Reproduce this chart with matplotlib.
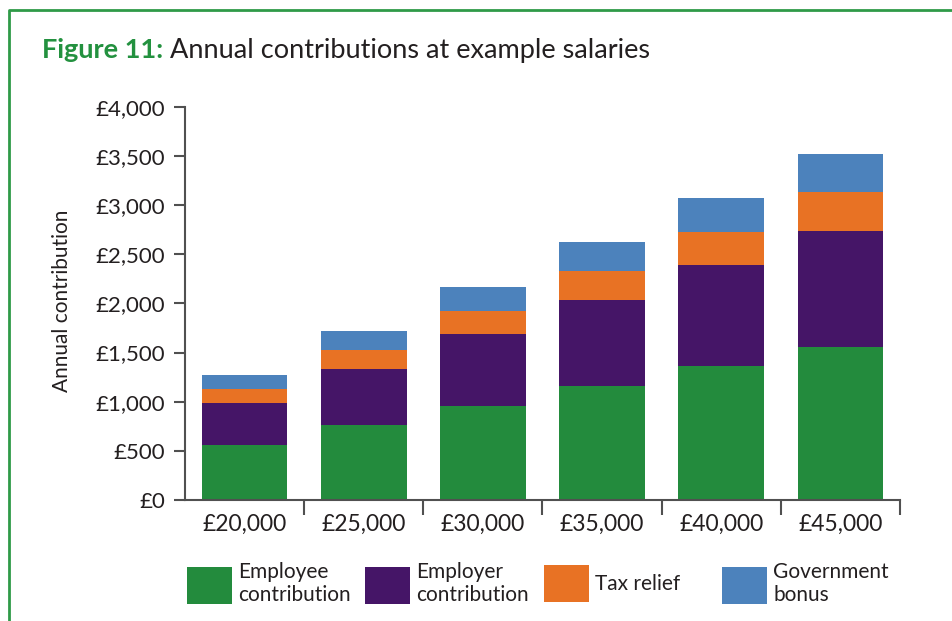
import matplotlib.pyplot as plt
import numpy as np
from matplotlib.lines import Line2D
from matplotlib.ticker import FuncFormatter, FixedLocator

salaries = ['£20,000', '£25,000', '£30,000', '£35,000', '£40,000', '£45,000']
employee = [560, 765, 955, 1160, 1360, 1555]
employer = [425, 565, 735, 875, 1030, 1185]
tax_relief = [145, 195, 235, 295, 340, 390]
gov_bonus = [140, 190, 245, 295, 340, 385]

labels = ['Employee\ncontribution', 'Employer\ncontribution', 'Tax relief', 'Government\nbonus']
colors = ['#238b3d', '#451567', '#e87224', '#4c82bc']

plt.rcParams['font.family'] = ['Lato', 'DejaVu Sans']
text_color = '#231f20'
axis_color = '#505050'

fig = plt.figure(figsize=(9.52, 6.21), dpi=100)
ax = fig.add_axes([0.1943, 0.1948, 0.7511, 0.6334])

x = np.arange(len(salaries))
series = [employee, employer, tax_relief, gov_bonus]
bottom = np.zeros(len(salaries))
bars = []
for values, color in zip(series, colors):
    b = ax.bar(x, values, width=0.72, bottom=bottom, color=color, linewidth=0)
    bars.append(b)
    bottom += np.array(values)

ax.set_xlim(-0.5, len(salaries) - 0.5)
ax.set_ylim(0, 4000)
ax.set_yticks(np.arange(0, 4001, 500))
ax.yaxis.set_major_formatter(FuncFormatter(lambda v, p: f'£{int(v):,}'))

ax.set_xticks(x)
ax.set_xticklabels(salaries)
ax.xaxis.set_minor_locator(FixedLocator(np.arange(0.5, len(salaries), 1.0)))

for side in ['top', 'right']:
    ax.spines[side].set_visible(False)
for side in ['left', 'bottom']:
    ax.spines[side].set_color(axis_color)
    ax.spines[side].set_linewidth(1.5)

ax.tick_params(axis='y', length=8, width=1.5, color=axis_color, pad=6,
               labelsize=16, labelcolor=text_color)
ax.tick_params(axis='x', which='major', length=0, pad=10,
               labelsize=16.5, labelcolor=text_color)
ax.tick_params(axis='x', which='minor', length=11, width=1.5, color=axis_color)

ax.set_ylabel('Annual contribution', fontsize=15, color=text_color, va='center')
ax.yaxis.set_label_coords(-0.172, 0.506)

# titulo em duas partes
t1 = fig.text(0.0441, 1 - 58 / 621, 'Figure 11:', fontsize=19.5, fontweight='bold',
              color='#23913f', va='baseline')
fig.canvas.draw()
bb = t1.get_window_extent()
fig.text(bb.x1 / fig.bbox.width, 1 - 58 / 621, ' Annual contributions at example salaries',
         fontsize=19.5, color=text_color, va='baseline')

# uma legenda para cada serie
leg_x = [187, 365, 544, 722]
for b, lab, lx in zip(bars, labels, leg_x):
    leg = fig.legend([b], [lab], loc='center left', bbox_to_anchor=(lx / 952, 1 - 583.5 / 621),
                     frameon=False, fontsize=15, borderpad=0, borderaxespad=0,
                     handlelength=2.16, handleheight=2.35, handletextpad=0.3,
                     labelspacing=0)
    for t in leg.get_texts():
        t.set_color(text_color)
        t.set_linespacing(1.2)

# moldura verde
fig.add_artist(Line2D([9 / 952, 9 / 952, 1.0], [0, 1 - 10 / 621, 1 - 10 / 621],
                      transform=fig.transFigure, color='#2f9a48', linewidth=2))

plt.savefig('out.png', dpi=100)
